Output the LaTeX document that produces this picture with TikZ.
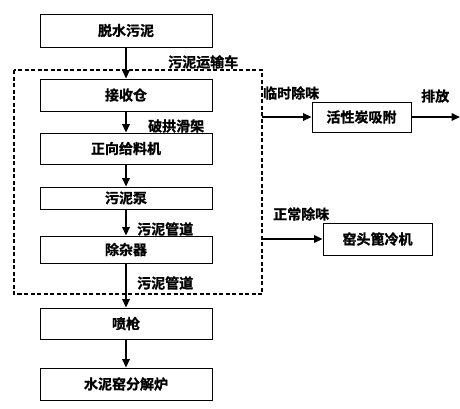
\documentclass[tikz,border=0pt]{standalone}
\usepackage{fontspec}
\setmainfont{Noto Sans CJK SC}[BoldFont={Noto Sans CJK SC Bold}]
\newfontfamily\cjkb{Noto Sans CJK SC Bold}[FakeBold=1.2]
\usetikzlibrary{arrows.meta}
\begin{document}
\begin{tikzpicture}[x=1pt,y=-1pt,
  box/.style={draw,line width=0.9pt,inner sep=0pt,font=\cjkb\fontsize{14}{15}\selectfont},
  lbl/.style={font=\cjkb\fontsize{14}{15}\selectfont,inner sep=0pt},
  flow/.style={line width=1.7pt,-{Triangle[length=8.5pt,width=7.5pt]}}]
\useasboundingbox (0,0) rectangle (460,408);
% dashed frame
\draw[line width=1.1pt,dash pattern=on 4pt off 2.5pt] (14,70) rectangle (262,294);
% left column boxes
\node[box,minimum width=172pt,minimum height=33pt] (a) at (126,30.5) {脱水污泥};
\node[box,minimum width=172pt,minimum height=32pt] (b) at (126,95) {接收仓};
\node[box,minimum width=172pt,minimum height=31pt] (c) at (126,148.5) {正向给料机};
\node[box,minimum width=172pt,minimum height=22pt] (d) at (126,198) {污泥泵};
\node[box,minimum width=172pt,minimum height=27pt] (e) at (126,249.5) {除杂器};
\node[box,minimum width=172pt,minimum height=31pt] (f) at (126,323.5) {喷枪};
\node[box,minimum width=172pt,minimum height=32pt] (g) at (126,384) {水泥窑分解炉};
% right boxes
\node[box,minimum width=99pt,minimum height=30pt] (h) at (361.5,117) {活性炭吸附};
\node[box,minimum width=109pt,minimum height=32pt] (k) at (377.5,239) {窑头篦冷机};
\coordinate (p1) at (262,117);
\coordinate (p2) at (262,239);
\coordinate (out) at (460,117);
% flows
\draw[flow] (a) -- (b);
\draw[flow] (b) -- (c);
\draw[flow] (c) -- (d);
\draw[flow] (d) -- (e);
\draw[flow] (e) -- (f);
\draw[flow] (f) -- (g);
\draw[flow] (p1) -- (h);
\draw[flow] (h) -- (out);
\draw[flow] (p2) -- (k);
% labels
\node[lbl,anchor=west] (l1) at (168,62) {污泥运输车};
\node[lbl,anchor=west] (l2) at (148,126) {破拱滑架};
\node[lbl,anchor=west] (l3) at (137,229) {污泥管道};
\node[lbl,anchor=west] (l4) at (137,283) {污泥管道};
\node[lbl,anchor=west] (l5) at (263,93) {临时除味};
\node[lbl,anchor=west] (l6) at (421,96) {排放};
\node[lbl,anchor=west] (l7) at (273,214) {正常除味};
\end{tikzpicture}
\end{document}
